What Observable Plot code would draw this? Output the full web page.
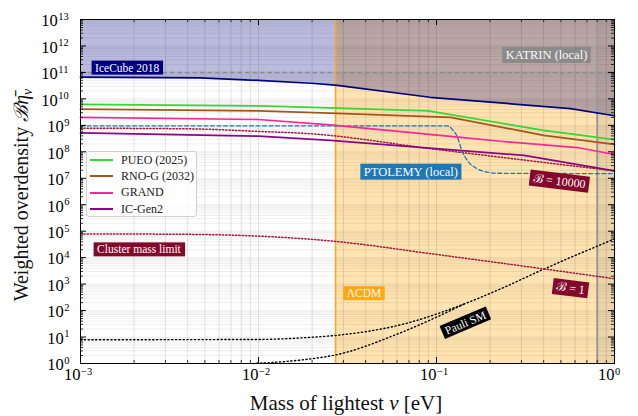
<!DOCTYPE html>
<html>
<head>
<meta charset="utf-8">
<script src="https://cdn.jsdelivr.net/npm/d3@7"></script>
<script src="https://cdn.jsdelivr.net/npm/@observablehq/plot@0.6"></script>
<style>
  body { margin: 0; background: #fff; }
  #wrap { position: relative; width: 638px; height: 416px; font-family: "Liberation Serif", "DejaVu Serif", serif; }
  .legend { position: absolute; left: 86px; top: 151px; width: 109px; height: 64px; background: rgba(255,255,255,0.82);
            border: 1px solid #cfcfcf; border-radius: 3px; font-size: 12px; color: #222; }
  .legend .row { position: absolute; left: 0; height: 16px; display: flex; align-items: center; }
  .legend .sw { width: 23px; height: 0; border-top: 2px solid; margin-left: 3px; margin-right: 8px; }
</style>
</head>
<body>
<div id="wrap"></div>
<script>
// ---------------- data ----------------
const massDomain = [1e-3, 1];          // eV
const densityDomain = [1, 1e13];

const iceCube2018 = [[0.001,6.6e10],[0.0047,6.2e10],[0.01,5.0e10],[0.0197,3.9e10],[0.027,3.3e10],[0.092,1.15e10],[0.566,4.3e9],[1,2.3e9]];
const pueo2025    = [[0.001,6.2e9],[0.01,5.4e9],[0.0253,4.6e9],[0.09,3.5e9],[0.4,6.5e8],[1,2.9e8]];
const rnoG2032    = [[0.001,4.1e9],[0.01,3.5e9],[0.0253,2.9e9],[0.12,2.0e9],[0.4,4.2e8],[1,1.9e8]];
const grand       = [[0.001,2.0e9],[0.01,1.66e9],[0.0253,1.05e9],[0.137,3.5e8],[0.228,2.5e8],[0.62,1.45e8],[1,7.9e7]];
const icGen2      = [[0.001,5.2e8],[0.01,3.9e8],[0.0253,2.7e8],[0.31,7.3e7],[1,1.9e7]];
const ptolemy     = [[0.001,9.5e8],[0.115,9.5e8],[0.123,6.9e8],[0.131,3.6e8],[0.139,1.1e8],[0.149,4.7e7],[0.169,2.3e7],[0.193,1.7e7],[0.219,1.55e7],[1,1.5e7]];
const bias10000   = [[0.001,7.8e8],[0.004,7.4e8],[0.01,5.9e8],[0.0197,4.8e8],[0.1,1.23e8],[1,1.9e7]];
const bias1       = [[0.001,7.9e4],[0.004,7.6e4],[0.01,6.5e4],[0.0253,4.3e4],[0.1,1.32e4],[1,1.6e3]];
const pauliUpper  = [[0.001,7.9],[0.01,8.1],[0.0197,9.8],[0.027,11.5],[0.0628,29],[0.1455,186],[0.229,660],[0.384,3240],[1,5.1e4]];
const pauliLower  = [[0.0093,1.0],[0.0133,1.15],[0.0197,1.5],[0.027,2.1],[0.0628,14.5],[0.1455,186]];

const lcdmMassLimit = 0.0271;
const katrinMassLimit = 0.8;
const katrinLocalLimit = 1e11;

const legendNames = ["PUEO (2025)", "RNO-G (2032)", "GRAND", "IC-Gen2"];

const xTickExponents = ["−3", "−2", "−1", "0"];
const yTickExponents = ["0","1","2","3","4","5","6","7","8","9","10","11","12","13"];

const annotations = [
  {text: "IceCube 2018",       m: 0.00183, value: 1.48e11},
  {text: "KATRIN (local)",     m: 0.415,   value: 4.6e11},
  {text: "PTOLEMY (local)",    m: 0.0718,  value: 1.78e7},
  {text: "ℬ = 10000",          m: 0.49,    value: 7.7e6},
  {text: "Cluster mass limit", m: 0.00213, value: 2.0e4},
  {text: "ΛCDM",               m: 0.0391,  value: 442},
  {text: "ℬ = 1",              m: 0.566,   value: 693},
  {text: "Pauli SM",           m: 0.1455,  value: 34}
];

// ---------------- styles ----------------
const FONT = "Liberation Serif, DejaVu Serif, serif";
const MAROON = "#84082c";
const colors = {pueo: "#36d636", rno: "#a85418", grand: "#ff2696", gen2: "#8a078a", ice: "#00007f", ptolemy: "#1f77b4"};
const legendColors = [colors.pueo, colors.rno, colors.grand, colors.gen2];
const annoStyle = {
  "IceCube 2018":       {box: "#00007f", size: 11.5, rotate: 0},
  "KATRIN (local)":     {box: "#8a8a8a", size: 12.5, rotate: 0},
  "PTOLEMY (local)":    {box: "#1f77b4", size: 12.5, rotate: 0},
  "ℬ = 10000":          {box: MAROON, size: 12, rotate: 7},
  "Cluster mass limit": {box: MAROON, size: 11.5, rotate: 0},
  "ΛCDM":               {box: "#ffa814", size: 11.5, rotate: 0},
  "ℬ = 1":              {box: MAROON, size: 12, rotate: 7},
  "Pauli SM":           {box: "#000000", size: 11.5, rotate: -23}
};

const W = 638, H = 416, mL = 80, mR = 24, mT = 19, mB = 53;
const pw = W - mL - mR, ph = H - mT - mB;

// ticks
const xMajor = xTickExponents.map((e, i) => massDomain[0] * 10 ** i);
const yMajor = yTickExponents.map((e, i) => 10 ** i);
const xMinor = xMajor.slice(0, -1).flatMap(d => d3.range(2, 10).map(k => k * d));
const yMinor = yMajor.slice(0, -1).flatMap(d => d3.range(2, 10).map(k => k * d));
const xTicks = xMajor.map((v, i) => ({v, e: xTickExponents[i]}));
const yTicks = yMajor.map((v, i) => ({v, e: yTickExponents[i]}));
const y1 = yTicks.filter(d => d.e.length === 1), y2 = yTicks.filter(d => d.e.length === 2);

const L = (data, stroke, o = {}) => Plot.line(data, {x: d => d[0], y: d => d[1], stroke, strokeWidth: 1.7, ...o});
const DOT = {strokeWidth: 1.5, strokeDasharray: "1.3,2", curve: "monotone-x"};
const PDOT = {strokeWidth: 1.4, strokeDasharray: "1.2,2.6", curve: "monotone-x"};

const marks = [
  // shaded regions
  Plot.rect([{x1: lcdmMassLimit, x2: massDomain[1]}], {x1: "x1", x2: "x2", fill: "#ffa500", fillOpacity: 0.3}),
  Plot.areaY(iceCube2018, {x: d => d[0], y1: d => d[1], y2: () => densityDomain[1], fill: "#000080", fillOpacity: 0.27}),
  Plot.rect([{x1: katrinMassLimit, x2: massDomain[1]}], {x1: "x1", x2: "x2", fill: "#808080", fillOpacity: 0.16}),
  // grid
  Plot.ruleY([...yMinor, ...yMajor], {stroke: "#000", strokeOpacity: 0.065, strokeWidth: 1}),
  Plot.ruleX([...xMinor, ...xMajor], {stroke: "#000", strokeOpacity: 0.11, strokeWidth: 1}),
  // reference lines
  Plot.ruleY([katrinLocalLimit], {stroke: "#8c8c8c", strokeWidth: 1.5, strokeDasharray: "4.5,3"}),
  Plot.ruleX([lcdmMassLimit], {stroke: "#f8a823", strokeWidth: 1.6}),
  Plot.ruleX([katrinMassLimit], {stroke: "#9a9a9a", strokeWidth: 2}),
  // curves
  L(pauliUpper, "#000", PDOT),
  L(pauliLower, "#000", PDOT),
  L(bias1, "#a3163e", DOT),
  L(bias10000, "#a3163e", DOT),
  L(ptolemy, colors.ptolemy, {strokeWidth: 1.3, strokeDasharray: "4,2.5", curve: "monotone-x"}),
  L(icGen2, colors.gen2),
  L(grand, colors.grand),
  L(rnoG2032, colors.rno),
  L(pueo2025, colors.pueo),
  L(iceCube2018, colors.ice),
  // frame + inward ticks
  Plot.frame({stroke: "#000", strokeWidth: 1}),
  Plot.tickY(yMajor, {insetRight: pw - 6, stroke: "#000"}),
  Plot.tickY(yMajor, {insetLeft: pw - 6, stroke: "#000"}),
  Plot.tickY(yMinor, {insetRight: pw - 3, stroke: "#000", strokeWidth: 0.8}),
  Plot.tickY(yMinor, {insetLeft: pw - 3, stroke: "#000", strokeWidth: 0.8}),
  Plot.tickX(xMajor, {insetBottom: ph - 6, stroke: "#000"}),
  Plot.tickX(xMajor, {insetTop: ph - 6, stroke: "#000"}),
  Plot.tickX(xMinor, {insetBottom: ph - 3, stroke: "#000", strokeWidth: 0.8}),
  Plot.tickX(xMinor, {insetTop: ph - 3, stroke: "#000", strokeWidth: 0.8}),
  // tick labels
  Plot.text(y1, {y: "v", text: () => "10", frameAnchor: "left", textAnchor: "end", dx: -16.7, dy: 1.5, fontSize: 16.5, fontFamily: FONT}),
  Plot.text(y1, {y: "v", text: "e", frameAnchor: "left", textAnchor: "start", dx: -16.2, dy: -3, fontSize: 10.5, fontFamily: FONT}),
  Plot.text(y2, {y: "v", text: () => "10", frameAnchor: "left", textAnchor: "end", dx: -22.7, dy: 1.5, fontSize: 16.5, fontFamily: FONT}),
  Plot.text(y2, {y: "v", text: "e", frameAnchor: "left", textAnchor: "start", dx: -22.2, dy: -3, fontSize: 10.5, fontFamily: FONT}),
  Plot.text(xTicks, {x: "v", text: () => "10", frameAnchor: "bottom", textAnchor: "end", dx: 0, dy: 16, fontSize: 16.5, fontFamily: FONT}),
  Plot.text(xTicks, {x: "v", text: "e", frameAnchor: "bottom", textAnchor: "start", dx: 0.5, dy: 11, fontSize: 10.5, fontFamily: FONT})
];

annotations.forEach(a => {
  const s = annoStyle[a.text];
  marks.push(Plot.text([a], {x: "m", y: "value", text: "text", rotate: s.rotate, fill: "#fbfbfb",
    fontSize: s.size, fontFamily: FONT, textAnchor: "middle"}));
});

const svg = Plot.plot({
  width: W, height: H,
  marginLeft: mL, marginRight: mR, marginTop: mT, marginBottom: mB,
  x: {type: "log", domain: massDomain, axis: null},
  y: {type: "log", domain: densityDomain, axis: null},
  style: {fontFamily: FONT, background: "white", overflow: "visible"},
  marks
});

const wrap = document.getElementById("wrap");
wrap.appendChild(svg);

// boxes behind annotation labels
const NS = "http://www.w3.org/2000/svg";
const allText = [...svg.querySelectorAll("text")];
annotations.forEach(a => {
  const s = annoStyle[a.text];
  const t = allText.find(el => el.textContent === a.text);
  if (!t) return;
  const bb = t.getBBox();
  const padX = 3.5, padY = 1;
  const r = document.createElementNS(NS, "rect");
  r.setAttribute("x", bb.x - padX);
  r.setAttribute("y", bb.y - padY);
  r.setAttribute("width", bb.width + 2 * padX);
  r.setAttribute("height", bb.height + 2 * padY);
  r.setAttribute("fill", s.box);
  if (t.getAttribute("transform")) r.setAttribute("transform", t.getAttribute("transform"));
  t.parentNode.insertBefore(r, t);
});

// axis titles
const sel = d3.select(svg);
const xl = sel.append("text").attr("x", 346).attr("y", 410).attr("text-anchor", "middle")
  .attr("font-size", 21).attr("font-family", FONT).attr("fill", "#111");
xl.append("tspan").text("Mass of lightest ");
xl.append("tspan").attr("font-style", "italic").text("ν");
xl.append("tspan").text(" [eV]");

const yl = sel.append("text").attr("transform", "translate(28,195) rotate(-90)").attr("text-anchor", "middle")
  .attr("font-size", 20).attr("font-family", FONT).attr("fill", "#111");
yl.append("tspan").text("Weighted overdensity ");
yl.append("tspan").attr("font-style", "italic").text("ℬ");
yl.append("tspan").attr("font-style", "italic").text("η\u0304");
yl.append("tspan").attr("font-style", "italic").attr("font-size", 14).attr("dy", 4).text("ν");

// legend
const lg = document.createElement("div");
lg.className = "legend";
legendNames.forEach((name, i) => {
  const row = document.createElement("div");
  row.className = "row";
  row.style.top = (i * 16.4) + "px";
  const sw = document.createElement("span");
  sw.className = "sw";
  sw.style.borderTopColor = legendColors[i];
  const tx = document.createElement("span");
  tx.textContent = name;
  row.appendChild(sw); row.appendChild(tx);
  lg.appendChild(row);
});
wrap.appendChild(lg);
</script>
</body>
</html>
